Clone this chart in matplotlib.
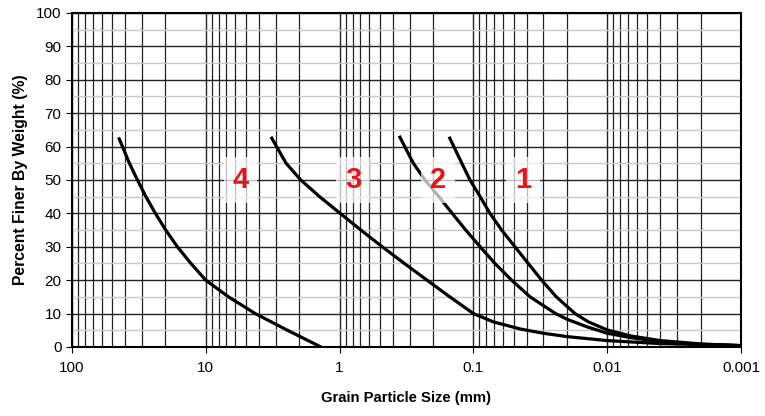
import matplotlib
matplotlib.use("Agg")
import matplotlib.pyplot as plt
from matplotlib.ticker import FixedLocator, LogLocator, NullFormatter

plt.rcParams['font.family'] = ['Liberation Sans', 'DejaVu Sans']

# grain size (mm) vs percent finer
size_1 = [0.15, 0.122, 0.106, 0.089, 0.0752, 0.0615, 0.0489, 0.0389, 0.0309,
          0.0240, 0.0174, 0.0138, 0.01, 0.0067, 0.004, 0.002, 0.001]
pct_1 = [62.5, 55, 50, 45, 40, 35, 30, 25, 20, 15, 10, 7.5, 5.1, 3.3, 1.9, 0.9, 0.4]

size_2 = [0.354, 0.281, 0.23, 0.181, 0.144, 0.114, 0.089, 0.069, 0.0518,
          0.0377, 0.0243, 0.02, 0.0141, 0.01, 0.0067, 0.004, 0.002, 0.001]
pct_2 = [62.8, 55, 50, 45, 40, 35, 30, 25, 20, 15, 10, 8.3, 6, 4.1, 2.8, 1.6, 0.8, 0.4]

size_3 = [3.21, 2.51, 1.95, 1.41, 0.99, 0.693, 0.48, 0.328, 0.222, 0.15,
          0.10, 0.0708, 0.0449, 0.03, 0.02, 0.01, 0.004, 0.001]
pct_3 = [62.5, 55, 50, 45, 40, 35, 30, 25, 20, 15, 10, 7.5, 5.4, 4.1, 3.1, 1.9, 1.0, 0.4]

size_4 = [44.3, 37.2, 32.4, 28.0, 23.8, 19.9, 16.3, 12.9, 10.0, 6.76,
          4.27, 2.45, 1.38]
pct_4 = [62.3, 55, 50, 45, 40, 35, 30, 25, 20, 15, 10, 5, 0]

labels = ['1', '2', '3', '4']
label_x = [0.0424, 0.183, 0.79, 5.5]
label_y = [50, 50, 50, 50]

x_ticks = [100, 10, 1, 0.1, 0.01, 0.001]
x_ticklabels = ['100', '10', '1', '0.1', '0.01', '0.001']

fig = plt.figure(figsize=(7.65, 4.16), dpi=100)
ax = fig.add_axes([0.094, 0.166, 0.8746, 0.803])

for s, p in [(size_1, pct_1), (size_2, pct_2), (size_3, pct_3), (size_4, pct_4)]:
    ax.plot(s, p, color='black', lw=2.3, zorder=3, solid_joinstyle='round')

for lab, lx, ly in zip(labels, label_x, label_y):
    ax.text(lx, ly, lab, color='#e8141b', fontsize=21, fontweight='bold',
            ha='center', va='center', zorder=4,
            bbox=dict(boxstyle='square,pad=0.3', fc='white', ec='none', alpha=0.7))

ax.set_xscale('log')
ax.set_xlim(100, 0.001)
ax.set_ylim(0, 100)

ax.xaxis.set_major_locator(FixedLocator(x_ticks))
ax.set_xticklabels(x_ticklabels)
ax.xaxis.set_minor_locator(LogLocator(base=10, subs=range(2, 10), numticks=20))
ax.xaxis.set_minor_formatter(NullFormatter())
ax.set_yticks(range(0, 101, 10))
ax.set_yticks(range(5, 100, 10), minor=True)

ax.grid(which='major', axis='both', color='#222222', lw=1.0)
ax.grid(which='minor', axis='x', color='#222222', lw=0.9)
ax.grid(which='minor', axis='y', color='#c8c8c8', lw=1.0)
ax.set_axisbelow(True)

ax.tick_params(which='major', direction='out', length=4, labelsize=11, colors='black')
ax.tick_params(which='minor', length=0)
ax.tick_params(axis='x', pad=6)
for sp in ax.spines.values():
    sp.set_color('black')
    sp.set_linewidth(1.5)

ax.set_xlabel('Grain Particle Size (mm)', fontsize=10.7, fontweight='bold', labelpad=12)
ax.set_ylabel('Percent Finer By Weight (%)', fontsize=11.3, fontweight='bold', labelpad=6)

fig.savefig('out.png', dpi=100)
